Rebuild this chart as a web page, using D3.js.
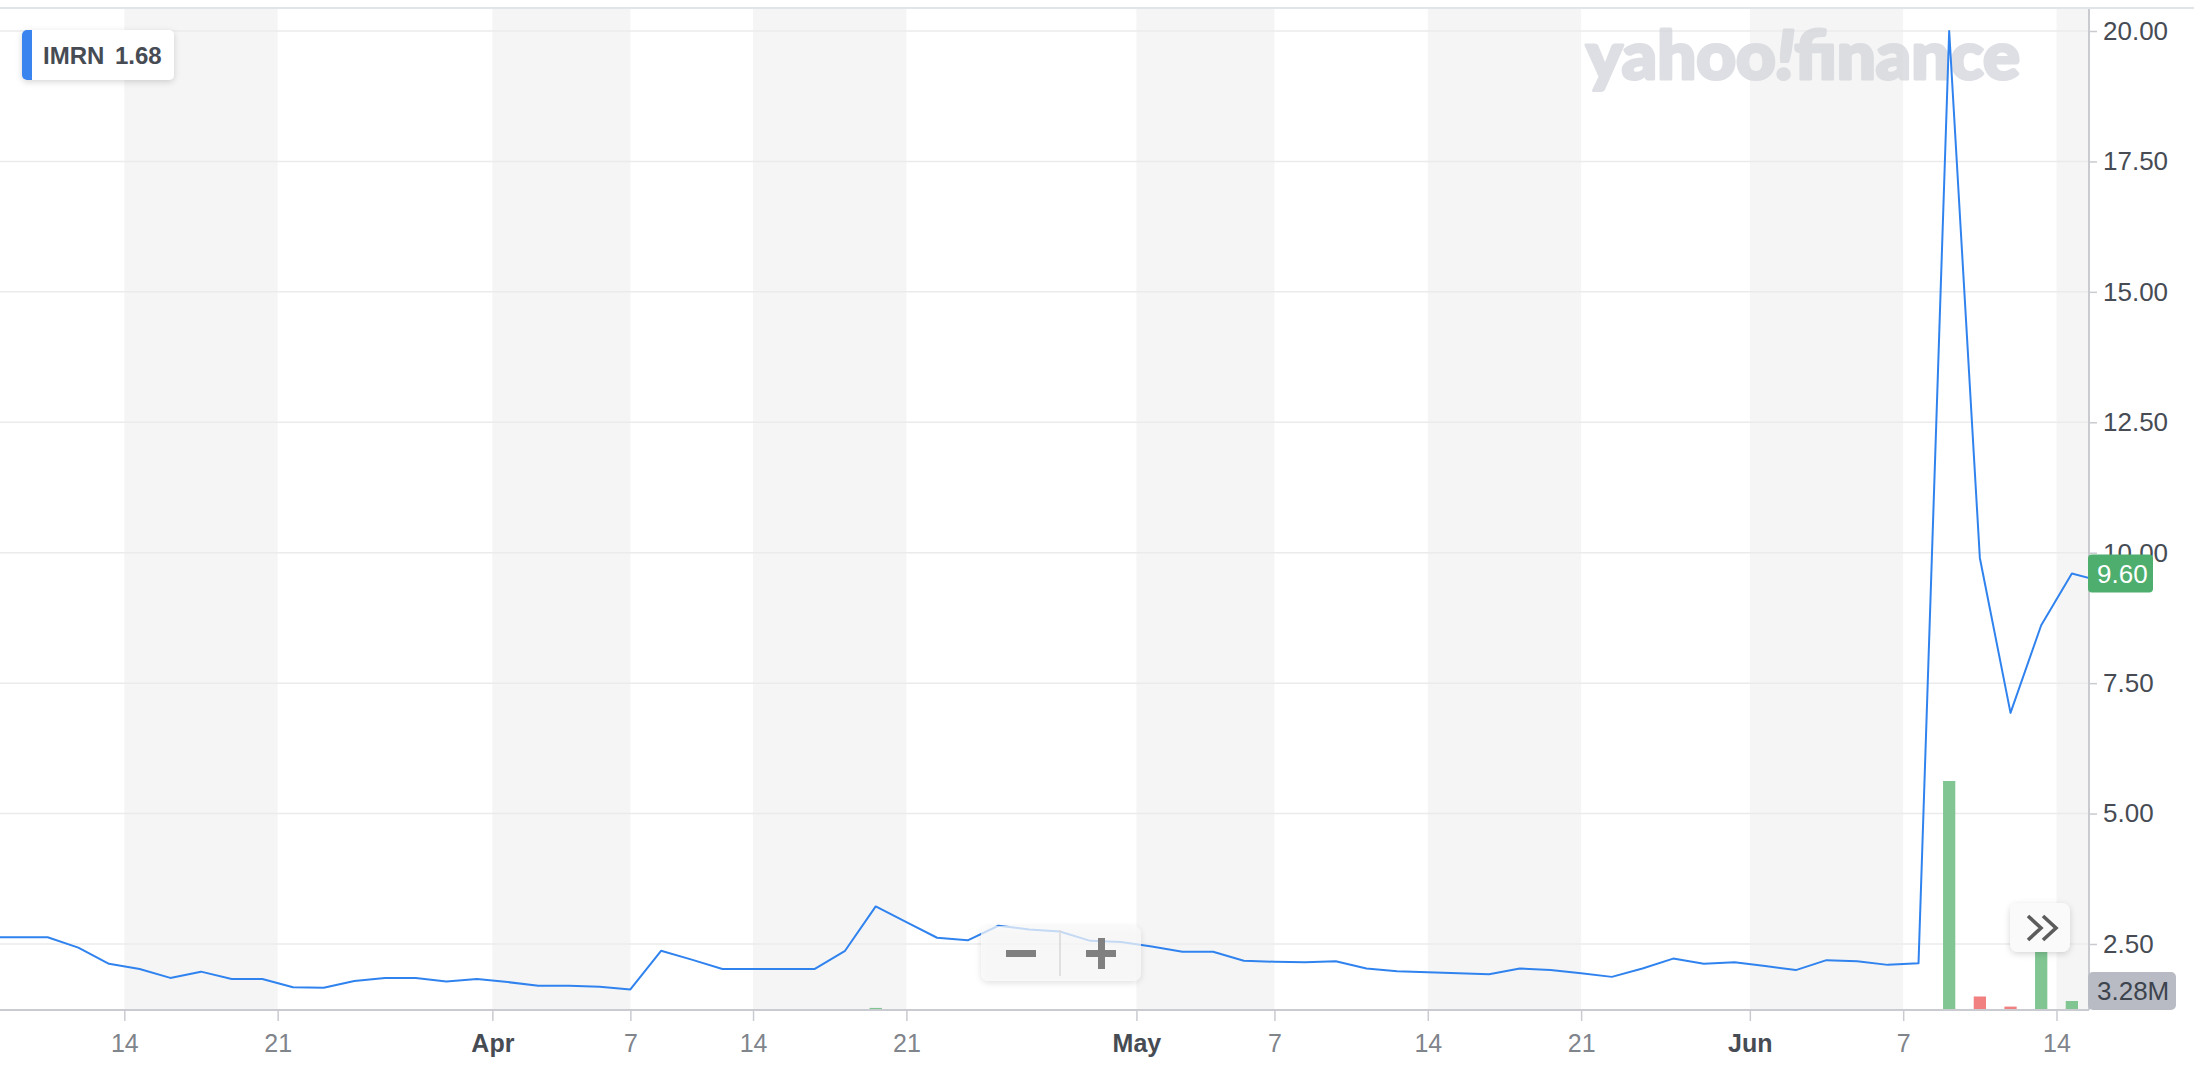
<!DOCTYPE html>
<html><head><meta charset="utf-8">
<script src="https://cdn.jsdelivr.net/npm/d3@7"></script>
<style>
html,body{margin:0;padding:0;background:#fff;}
svg{display:block;font-family:"Liberation Sans",Arial,Helvetica,sans-serif;}
</style></head><body>
<svg id="chart" width="2194" height="1066"></svg>
<script>
// ---------- data ----------
const symbol = "IMRN";
const legendValue = "1.68";
const lastPriceLabel = "9.60";
const lastPrice = 9.60;
const lastVolumeLabel = "3.28M";

const tradingDates = [
  "2020-03-09","2020-03-10","2020-03-11","2020-03-12","2020-03-13","2020-03-16","2020-03-17","2020-03-18","2020-03-19","2020-03-20",
  "2020-03-23","2020-03-24","2020-03-25","2020-03-26","2020-03-27","2020-03-30","2020-03-31",
  "2020-04-01","2020-04-02","2020-04-03","2020-04-06","2020-04-07","2020-04-08","2020-04-09","2020-04-13","2020-04-14","2020-04-15",
  "2020-04-16","2020-04-17","2020-04-20","2020-04-21","2020-04-22","2020-04-23","2020-04-24","2020-04-27","2020-04-28","2020-04-29","2020-04-30",
  "2020-05-01","2020-05-04","2020-05-05","2020-05-06","2020-05-07","2020-05-08","2020-05-11","2020-05-12","2020-05-13","2020-05-14",
  "2020-05-15","2020-05-18","2020-05-19","2020-05-20","2020-05-21","2020-05-22","2020-05-26","2020-05-27","2020-05-28","2020-05-29",
  "2020-06-01","2020-06-02","2020-06-03","2020-06-04","2020-06-05","2020-06-08","2020-06-09","2020-06-10","2020-06-11","2020-06-12",
  "2020-06-15","2020-06-16"
];
const closes = [
  2.63,2.63,2.63,2.43,2.12,2.02,1.85,1.97,1.83,1.83,1.67,1.66,1.79,1.85,1.85,1.78,1.83,
  1.77,1.70,1.70,1.68,1.63,2.37,2.20,2.02,2.02,2.02,2.02,2.37,3.22,2.92,2.62,2.57,2.85,2.78,2.74,2.56,2.54,
  2.45,2.35,2.35,2.18,2.16,2.15,2.17,2.03,1.98,1.96,1.94,1.92,2.03,2.00,1.94,1.87,2.03,2.22,2.12,2.15,
  2.08,2.00,2.19,2.17,2.10,2.13,20.00,9.90,6.93,8.61,9.60,9.45
];
// volume, millions of shares
const volumes = [
  0.12,0.10,0.15,0.18,0.14,0.16,0.12,0.10,0.11,0.09,0.13,0.08,0.10,0.09,0.07,0.08,0.09,
  0.07,0.06,0.05,0.06,0.08,0.17,0.12,0.09,0.06,0.05,0.06,0.15,0.38,0.18,0.12,0.10,0.14,0.11,0.09,0.08,0.07,
  0.08,0.07,0.06,0.07,0.06,0.05,0.06,0.07,0.05,0.05,0.06,0.05,0.08,0.06,0.05,0.05,0.07,0.09,0.06,0.05,
  0.05,0.06,0.08,0.06,0.05,0.07,41.7,2.46,0.62,16.4,1.64,3.28
];
const yTickValues = [2.5, 5, 7.5, 10, 12.5, 15, 17.5, 20];
const xTickDates = ["2020-03-14","2020-03-21","2020-04-01","2020-04-07","2020-04-14","2020-04-21",
  "2020-05-01","2020-05-07","2020-05-14","2020-05-21","2020-06-01","2020-06-07","2020-06-14"];
const xTickLabels = ["14","21","Apr","7","14","21","May","7","14","21","Jun","7","14"];

// ---------- layout ----------
const W = 2194, H = 1066;
const plotLeft = 0, plotRight = 2089, plotTop = 8, axisY = 1010;
const slot = 30.67, firstX = -13.7;

const svg = d3.select("#chart");
const defs = svg.append("defs");
const sh = defs.append("filter").attr("id","shadow").attr("x","-20%").attr("y","-30%").attr("width","140%").attr("height","170%");
sh.append("feDropShadow").attr("dx",0).attr("dy",2).attr("stdDeviation",3).attr("flood-color","#000").attr("flood-opacity",0.16);
defs.append("clipPath").attr("id","plotclip").append("rect")
  .attr("x",plotLeft).attr("y",plotTop).attr("width",plotRight-plotLeft).attr("height",axisY-plotTop);

const parse = d3.timeParse("%Y-%m-%d");
const dates = tradingDates.map(parse);
const n = dates.length;

const xScale = d3.scaleLinear().domain([0, n-1]).range([firstX, firstX + (n-1)*slot]);
const yScale = d3.scaleLinear().domain([2.5, 20]).range([944, 31]);
const vScale = d3.scaleLinear().domain([0, d3.max(volumes)]).range([axisY, axisY - 229]);

const tickPositions = xTickDates.map((s,k) => {
  const t = parse(s);
  const j = dates.findIndex(d => d >= t);
  const isMonth = isNaN(+xTickLabels[k]);
  const exact = +dates[j] === +t;
  return (exact && !isMonth) ? j : j - 0.5;
});

// top border
svg.append("line").attr("x1",0).attr("x2",W).attr("y1",plotTop).attr("y2",plotTop)
  .attr("stroke","#e1e4e9").attr("stroke-width",2);

// alternating bands
const bands = [];
for (let k = 0; k < tickPositions.length; k += 2) {
  const x1 = xScale(tickPositions[k]);
  const x2 = k+1 < tickPositions.length ? xScale(tickPositions[k+1]) : plotRight;
  bands.push([x1, Math.min(x2, plotRight)]);
}
svg.append("g").selectAll("rect").data(bands).join("rect")
  .attr("x", d => d[0]).attr("y", plotTop + 1).attr("width", d => d[1]-d[0]).attr("height", axisY - plotTop - 1)
  .attr("fill", "#f5f5f5");

// gridlines
svg.append("g").selectAll("line").data(yTickValues).join("line")
  .attr("x1", plotLeft).attr("x2", plotRight)
  .attr("y1", d => yScale(d)).attr("y2", d => yScale(d))
  .attr("stroke", "#ebebeb").attr("stroke-width", 1.5);

// watermark
const wm = svg.append("text").attr("x",1586).attr("y",79)
  .attr("font-family","Lato, 'DejaVu Sans', sans-serif").attr("font-weight",900).attr("font-size",66)
  .attr("fill","#d3d5db").attr("stroke","#d3d5db").attr("stroke-width",3).attr("stroke-linejoin","round")
  .attr("opacity",0.75)
  .attr("textLength",434).attr("lengthAdjust","spacingAndGlyphs");
wm.append("tspan").text("yahoo");
wm.append("tspan").attr("font-style","italic").text("!");
wm.append("tspan").text("finance");

// volume bars
const bw = slot * 0.4;
svg.append("g").attr("clip-path","url(#plotclip)").selectAll("rect").data(volumes).join("rect")
  .attr("x", (d,i) => xScale(i) - bw/2)
  .attr("y", d => vScale(d))
  .attr("width", bw)
  .attr("height", d => axisY - vScale(d))
  .attr("fill", (d,i) => (i === 0 || closes[i] >= closes[i-1]) ? "#80c592" : "#f18080");

// price line
svg.append("path").datum(closes).attr("clip-path","url(#plotclip)")
  .attr("d", d3.line().x((d,i) => xScale(i)).y(d => yScale(d)))
  .attr("fill","none").attr("stroke","#3083ee").attr("stroke-width",2).attr("stroke-linejoin","round");

// axis lines
svg.append("line").attr("x1",plotRight).attr("x2",plotRight).attr("y1",plotTop+1).attr("y2",axisY)
  .attr("stroke","#c9cbd0").attr("stroke-width",2);
svg.append("line").attr("x1",plotLeft).attr("x2",plotRight).attr("y1",axisY).attr("y2",axisY)
  .attr("stroke","#c9cbd0").attr("stroke-width",2);

// y axis
const yAxis = svg.append("g").attr("transform",`translate(${plotRight},0)`)
  .call(d3.axisRight(yScale).tickValues(yTickValues).tickFormat(d3.format(".2f")).tickSize(8).tickPadding(6));
yAxis.select(".domain").remove();
yAxis.selectAll("line").attr("stroke","#c9cbd0").attr("stroke-width",1.5);
yAxis.selectAll("text").attr("font-size",26).attr("fill","#464b54")
  .attr("font-family","'Liberation Sans', Arial, sans-serif");

// x axis
const xAxis = svg.append("g").attr("transform",`translate(0,${axisY})`)
  .call(d3.axisBottom(xScale).tickValues(tickPositions).tickFormat((d,i) => xTickLabels[i]).tickSize(11).tickPadding(13));
xAxis.select(".domain").remove();
xAxis.selectAll("line").attr("stroke","#c9cbd0").attr("stroke-width",1.5);
xAxis.selectAll("text").attr("font-size",25)
  .attr("font-family","'Liberation Sans', Arial, sans-serif")
  .attr("font-weight", (d,i) => isNaN(+xTickLabels[i]) ? "bold" : "normal")
  .attr("fill", (d,i) => isNaN(+xTickLabels[i]) ? "#464b54" : "#80848b");

// zoom control box
const zb = svg.append("g");
zb.append("rect").attr("x",981).attr("y",926).attr("width",160).attr("height",55).attr("rx",8)
  .attr("fill","#fafafa").attr("fill-opacity",0.72).attr("filter","url(#shadow)");
zb.append("line").attr("x1",1060).attr("x2",1060).attr("y1",930).attr("y2",976).attr("stroke","#d8d8d8").attr("stroke-width",1.5);
zb.append("rect").attr("x",1006).attr("y",950).attr("width",30).attr("height",7).attr("fill","#808080");
zb.append("rect").attr("x",1086).attr("y",950).attr("width",30).attr("height",7).attr("fill","#808080");
zb.append("rect").attr("x",1098).attr("y",938).attr("width",7).attr("height",31).attr("fill","#808080");

// scroll-to-end button
const sb = svg.append("g");
sb.append("rect").attr("x",2010).attr("y",903).attr("width",60).attr("height",49).attr("rx",8)
  .attr("fill","#fafafa").attr("filter","url(#shadow)");
sb.append("path").attr("d","M2028,916 L2041,928 L2028,940 M2043,916 L2056,928 L2043,940")
  .attr("fill","none").attr("stroke","#5c5c5c").attr("stroke-width",3.6);

// legend
const lg = svg.append("g");
defs.append("clipPath").attr("id","legclip").append("rect").attr("x",22).attr("y",30).attr("width",152).attr("height",50).attr("rx",5);
lg.append("rect").attr("x",22).attr("y",30).attr("width",152).attr("height",50).attr("rx",5)
  .attr("fill","#fff").attr("filter","url(#shadow)");
lg.append("rect").attr("x",22).attr("y",30).attr("width",10).attr("height",50).attr("fill","#3a84f0").attr("clip-path","url(#legclip)");
lg.append("text").attr("x",43).attr("y",64).attr("font-size",24).attr("font-weight","bold").attr("fill","#464b54").text(symbol);
lg.append("text").attr("x",115).attr("y",64).attr("font-size",24).attr("font-weight","bold").attr("fill","#464b54").text(legendValue);

// last price badge
const py = yScale(lastPrice);
svg.append("rect").attr("x",2088).attr("y",py-19).attr("width",65).attr("height",38).attr("rx",4).attr("fill","#4dae6d");
svg.append("text").attr("x",2097).attr("y",py+9.5).attr("font-size",26).attr("fill","#fff").text(lastPriceLabel);

// last volume badge
const vy = vScale(volumes[n-1]) - 1;
svg.append("rect").attr("x",2088).attr("y",vy-19).attr("width",88).attr("height",38).attr("rx",5).attr("fill","#b8bbc3");
svg.append("text").attr("x",2097).attr("y",vy+9.5).attr("font-size",26).attr("fill","#3e444e").text(lastVolumeLabel);
</script>
</body></html>
